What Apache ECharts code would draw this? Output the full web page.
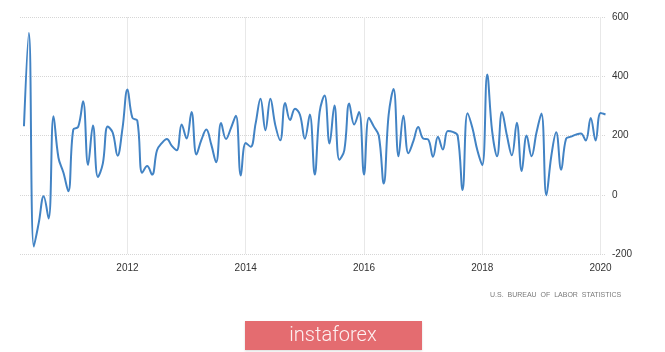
<!DOCTYPE html>
<html>
<head>
<meta charset="utf-8">
<script src="https://cdn.jsdelivr.net/npm/echarts@6/dist/echarts.min.js"></script>
<style>
html, body { margin: 0; padding: 0; background: #fff; }
#chart { width: 665px; height: 352px; }
</style>
</head>
<body>
<div id="chart"></div>
<script>
// US non farm payrolls, monthly change (thousands), Apr 2010 .. Feb 2020
var startYear = 2010, startMonth = 4;
var nfp2010 = [231, 546, -175, -95, -5, -80, 265, 125, 75];
var nfp2011 = [12, 220, 229, 316, 101, 234, 60, 105, 230, 210, 132, 225];
var nfp2012 = [355, 260, 250, 74, 97, 68, 150, 175, 188, 165, 150, 237];
var nfp2013 = [190, 279, 136, 185, 220, 170, 110, 242, 188, 225, 267, 65];
var nfp2014 = [175, 162, 240, 324, 218, 324, 235, 184, 310, 252, 290, 270];
var nfp2015 = [189, 271, 68, 280, 335, 173, 301, 118, 150, 308, 237, 279];
var nfp2016 = [68, 260, 230, 200, 38, 270, 357, 130, 267, 140, 180, 229];
var nfp2017 = [190, 187, 128, 196, 153, 215, 212, 200, 16, 275, 225, 150];
var nfp2018 = [100, 406, 215, 130, 279, 200, 133, 243, 80, 200, 130, 210];
var nfp2019 = [274, -2, 130, 211, 84, 189, 196, 203, 207, 183, 259, 183];
var nfp2020 = [276, 271];

var yearTicks = [2012, 2014, 2016, 2018, 2020];
var sourceText = 'U.S.  BUREAU  OF  LABOR  STATISTICS';
var brandText = 'instaforex';

var values = [].concat(nfp2010, nfp2011, nfp2012, nfp2013, nfp2014, nfp2015,
                       nfp2016, nfp2017, nfp2018, nfp2019, nfp2020);
// x = year as a decimal, one step per month
var seriesData = [];
for (var i = 0; i < values.length; i++) {
    var m = startMonth - 1 + i;
    seriesData.push([startYear + m / 12, values[i]]);
}

var chart = echarts.init(document.getElementById('chart'));

var option = {
    animation: false,
    backgroundColor: '#fff',
    grid: { left: 20, right: 59, top: 17, bottom: 98 },
    xAxis: {
        type: 'value',
        min: 2010.183,
        max: 2020.092,
        axisLine: { show: false },
        axisTick: { show: false, customValues: yearTicks },
        axisLabel: {
            customValues: yearTicks,
            formatter: function (v) { return String(Math.round(v)); },
            color: '#333',
            fontSize: 10,
            fontFamily: 'Liberation Sans',
            margin: 9
        },
        splitLine: { show: true, lineStyle: { color: '#e8e8e8', width: 1 } }
    },
    yAxis: {
        type: 'value',
        position: 'right',
        min: -200,
        max: 600,
        interval: 200,
        axisLine: { show: false },
        axisTick: { show: false },
        axisLabel: { color: '#333', fontSize: 10, fontFamily: 'Liberation Sans', margin: 6 },
        splitLine: { lineStyle: { color: '#d6d6d6', type: 'dotted', width: 1 } }
    },
    series: [{
        type: 'line',
        data: seriesData,
        smooth: 0.4,
        showSymbol: false,
        lineStyle: { color: '#4283c4', width: 2 }
    }],
    graphic: [
        {
            type: 'text',
            left: 490,
            top: 292,
            style: { text: sourceText, font: '7px "Liberation Sans"', fill: '#7a7a7a' }
        },
        {
            type: 'rect',
            shape: { x: 245, y: 321, width: 177, height: 29 },
            style: { fill: '#e46c70', shadowBlur: 2, shadowColor: 'rgba(0,0,0,0.15)', shadowOffsetY: 1 }
        },
        {
            type: 'text',
            x: 333,
            y: 336,
            style: {
                text: brandText,
                font: '300 20px Roboto',
                fill: '#fdf1f1',
                align: 'center',
                verticalAlign: 'middle'
            }
        }
    ]
};
chart.setOption(option);
</script>
</body>
</html>
